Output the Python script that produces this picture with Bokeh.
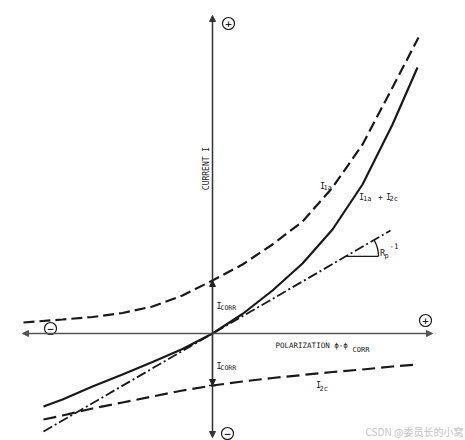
import math
from bokeh.plotting import figure
from bokeh.models import Range1d, Arrow, NormalHead
from bokeh.core.properties import value
from bokeh.embed import file_html
from bokeh.resources import INLINE

# ---- data (schematic units: polarization eta, current I) ----
eta_1a = [-18.9, -15, -12, -9, -6, -3, 0, 3, 6, 9, 12, 15, 18, 20.6]
i_1a = [1.1, 1.4, 1.65, 2.05, 2.7, 3.8, 5.3, 6.9, 8.9, 11.2, 14.6, 18.9, 24.6, 29.6]

eta_2c = [-16.9, -15, -12, -9, -6, -3, 0, 3, 6, 9, 12, 15, 18, 20.5]
i_2c = [-8.6, -8.2, -7.5, -6.9, -6.3, -5.7, -5.2, -4.8, -4.45, -4.15, -3.85, -3.6, -3.3, -3.1]

eta_sum = [-16.9, -15, -12, -9, -6, -3, 0, 3, 6, 9, 12, 15, 18, 20.5]
i_sum = [-7.3, -6.6, -5.3, -4.1, -2.85, -1.55, 0, 1.95, 4.3, 7.0, 10.4, 14.9, 20.9, 26.6]

eta_tan = [-16.9, 17.8]
i_tan = [-9.8, 10.3]

slope_rp = 0.58
rp_eta0, rp_len = 13.3, 3.3

i_corr_up = 5.3
i_corr_down = -5.2

axis_x = [-19.0, 22.0]
axis_y = [-10.4, 31.8]

FONT = value("DejaVu Sans Mono")
INK = "#1a1a1a"

p = figure(width=465, height=440, output_backend="svg", toolbar_location=None,
           x_range=Range1d(-21.2, 25.3), y_range=Range1d(-10.7, 33.3),
           min_border=0)
p.axis.visible = False
p.grid.visible = False
p.outline_line_color = None
p.background_fill_color = "white"
p.border_fill_color = "white"

# axes with arrow heads
p.add_layout(Arrow(x_start=axis_x[0], y_start=0, x_end=axis_x[1], y_end=0,
                   line_color="#555555", line_width=1.5,
                   start=NormalHead(size=6, fill_color="#555555", line_color="#555555"),
                   end=NormalHead(size=6, fill_color="#555555", line_color="#555555")))
p.add_layout(Arrow(x_start=0, y_start=axis_y[0], x_end=0, y_end=axis_y[1],
                   line_color="#333333", line_width=1.5,
                   start=NormalHead(size=6, fill_color="#333333", line_color="#333333"),
                   end=NormalHead(size=6, fill_color="#333333", line_color="#333333")))

# curves
p.line(eta_1a, i_1a, line_color=INK, line_width=2.2, line_dash="11 5")
p.line(eta_2c, i_2c, line_color=INK, line_width=2.2, line_dash="13 6")
p.line(eta_tan, i_tan, line_color=INK, line_width=1.8, line_dash="10 3 2 3")
p.line(eta_sum, i_sum, line_color=INK, line_width=2.2)

# Rp^-1 angle marker
rp_i0 = slope_rp * rp_eta0
p.line([rp_eta0, rp_eta0 + rp_len], [rp_i0, rp_i0], line_color=INK, line_width=1.3)
p.arc(x=[rp_eta0], y=[rp_i0], radius=rp_len, start_angle=0,
      end_angle=math.atan(slope_rp), line_color=INK, line_width=1.3)

# I_corr arrows
p.add_layout(Arrow(x_start=0, y_start=0, x_end=0, y_end=i_corr_up, line_color="#333333",
                   line_width=1.2, end=NormalHead(size=6, fill_color="#222222", line_color="#222222")))
p.add_layout(Arrow(x_start=0, y_start=0, x_end=0, y_end=i_corr_down, line_color="#333333",
                   line_width=1.2, end=NormalHead(size=6, fill_color="#222222", line_color="#222222")))
p.line([-0.35, 0.35], [i_corr_down, i_corr_down], line_color=INK, line_width=1.3)

# circled signs
sx = [1.6, 21.3, -16.2, 1.5]
sy = [31.0, 1.3, 0.5, -10.0]
p.scatter(sx, sy, marker="circle", size=12, fill_color="white", line_color=INK, line_width=1.2)
p.text(sx, sy, text=["+", "+", "−", "−"], text_align="center", text_baseline="middle",
       text_font=value("DejaVu Sans"), text_font_size="9px", text_font_style="bold", text_color=INK)

def label(x, y, t, size="7.5px", align="left", baseline="alphabetic", angle=0.0):
    p.text([x], [y], text=[t], text_font=FONT, text_font_size=size, text_align=align,
           text_baseline=baseline, angle=angle, text_color=INK)

label(-0.65, 16.5, "CURRENT I", size="8px", align="center", baseline="middle", angle=math.pi / 2)
label(6.3, -1.2, "POLARIZATION ϕ-ϕ", size="7.5px")
label(14.0, -1.6, "CORR", size="7px")

label(0.4, 2.8, "I", size="8.5px")
label(0.8, 2.55, "CORR", size="6.5px")
label(0.4, -3.2, "I", size="8.5px")
label(0.8, -3.45, "CORR", size="6.5px")

label(10.75, 14.8, "I", size="8.5px")
label(11.1, 14.55, "1a", size="7px")

label(14.65, 13.7, "I", size="8.5px")
label(15.05, 13.45, "1a", size="7px")
label(16.8, 13.7, "+", size="8px", align="center")
label(17.35, 13.7, "I", size="8.5px")
label(17.7, 13.45, "2c", size="7px")

label(10.35, -5.1, "I", size="8.5px")
label(10.7, -5.5, "2c", size="7px")

label(16.75, 8.1, "R", size="8.5px")
label(17.2, 7.8, "p", size="7px")
label(17.7, 8.8, "-1", size="7.5px")

# watermark
p.text([15.3], [-9.8], text=["CSDN @委员长的小窝"], text_font=value("Noto Sans CJK SC"),
       text_font_size="10px", text_color="#c4c4c4", text_baseline="alphabetic")

open("out.html", "w").write(file_html(p, INLINE))
